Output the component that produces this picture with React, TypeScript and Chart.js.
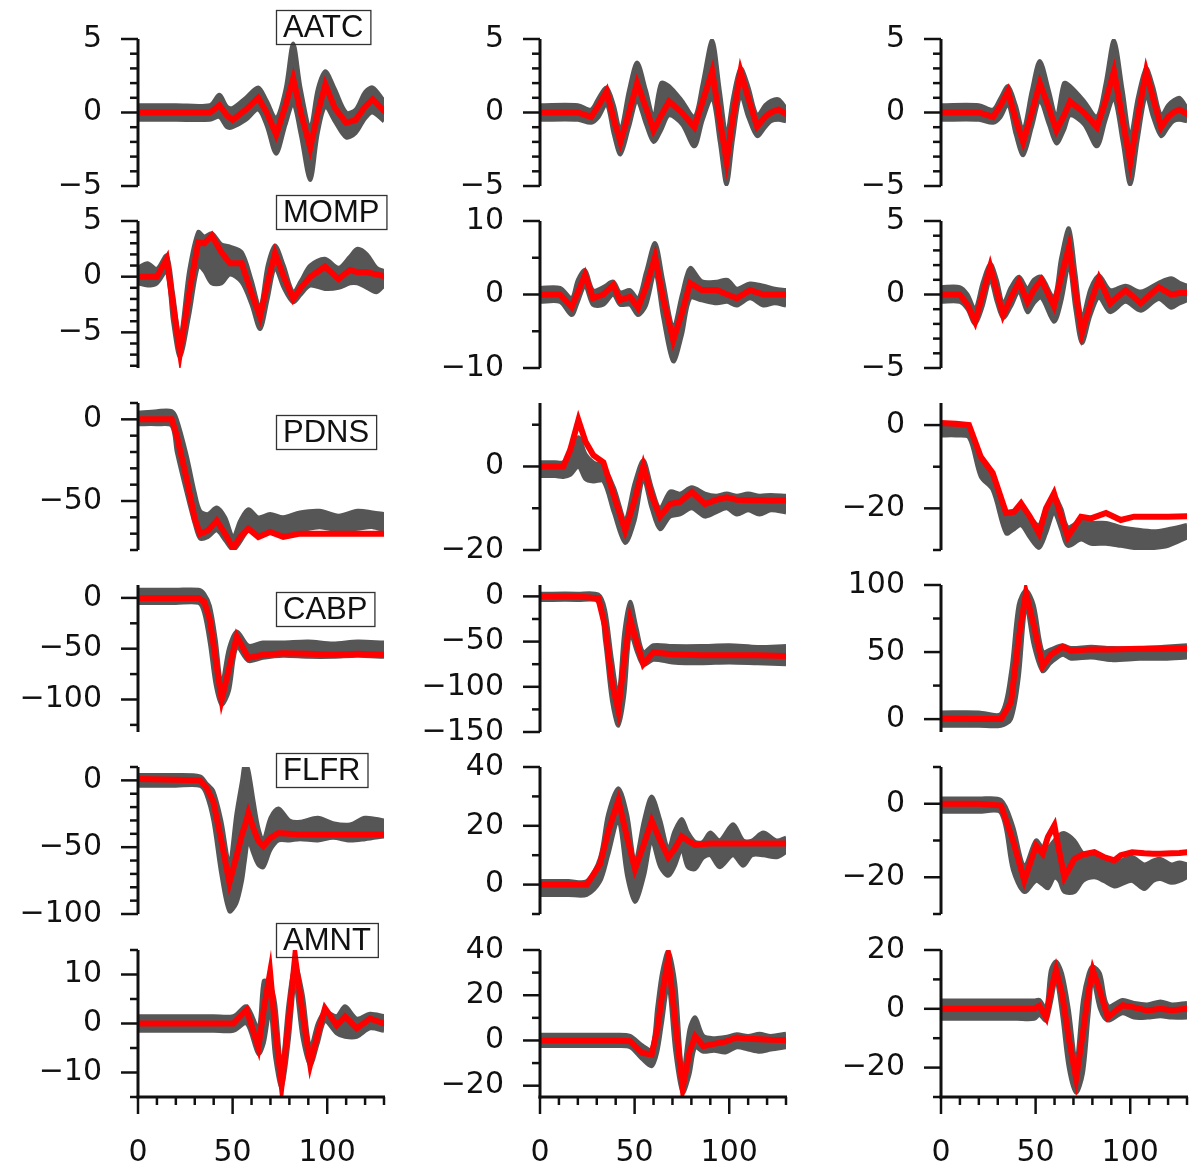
import React, { useEffect, useRef } from "react";
import { Chart, registerables } from "chart.js";

Chart.register(...registerables);

// ---------------- DATA ----------------
// Row labels (left column boxes)
const ROW_LABELS = ["AATC", "MOMP", "PDNS", "CABP", "FLFR", "AMNT"];

// Axis ranges / ticks per panel [row][col]
const Y_MIN = [[-5, -5, -5], [-8.2, -10, -5], [-80, -20, -30], [-132, -150, -9.6], [-100, -10, -30], [-15, -25, -30]];
const Y_MAX = [[5, 5, 5], [5, 10, 5], [10, 15.2, 5.3], [12.7, 12.6, 100], [10, 40, 10], [15, 40, 20]];
const Y_STEP = [[1, 1, 1], [1, 5, 1], [10, 10, 10], [25, 25, 25], [10, 10, 10], [5, 10, 10]];
const Y_LABEL_STEP = [[5, 5, 5], [5, 10, 5], [50, 20, 20], [50, 50, 50], [50, 20, 20], [10, 20, 20]];
const X_MIN = 0;
const X_MAX = 130;
const X_STEP = 10;
const X_LABEL_STEP = 50;

// AATC
const AATC_1_X = [0, 20, 38, 43, 47, 50, 57, 63.5, 68, 73, 78, 82, 86, 91, 95, 99, 104, 110, 115, 120, 124, 130];
const AATC_1_RED = [0, 0, 0, 0.5, -0.2, -0.5, 0.2, 1.0, 0, -1.5, 0.5, 2.3, 0, -2.4, 0, 1.9, 0.3, -0.7, -0.5, 0.4, 0.9, 0.1];
const AATC_1_HI = [0.5, 0.5, 0.5, 1.2, 0.4, 0.3, 1.0, 1.7, 0.8, -0.4, 1.6, 4.7, 1.6, -1.0, 1.6, 2.8, 1.6, 0.0, 0.2, 1.4, 1.7, 0.8];
const AATC_1_LO = [-0.5, -0.5, -0.5, -0.3, -1.0, -1.0, -0.5, 0.2, -0.9, -2.8, -0.8, 0.6, -1.5, -4.6, -1.4, 0.4, -0.6, -1.7, -1.4, -0.4, 0.0, -0.6];

const AATC_2_X = [0, 20, 27, 31, 35.2, 39, 42.5, 47, 51.3, 56, 60, 64, 68.2, 75, 81.6, 86, 91, 95, 98.6, 102, 106, 110, 114.7, 119, 122, 126, 130];
const AATC_2_RED = [0, 0, -0.3, 0.5, 1.45, -0.5, -2.0, 0, 2.0, 0.3, -1.2, -0.2, 0.75, 0, -1.0, 0.8, 2.8, -0.5, -3.3, -0.3, 2.8, 1.0, -0.95, -0.3, 0, 0.2, -0.1];
const AATC_2_HI = [0.5, 0.5, 0.2, 1.0, 1.7, 0.5, -1.2, 1.5, 3.4, 1.5, -0.3, 2.0, 1.8, 0.8, -0.3, 2.0, 4.9, 1.5, -1.5, 1.0, 3.0, 1.8, -0.2, 0.5, 0.8, 0.9, 0.3];
const AATC_2_LO = [-0.5, -0.5, -0.7, -0.3, 0.6, -1.5, -2.85, -1.0, 0.8, -0.8, -2.0, -1.2, -0.2, -0.8, -2.3, -0.5, 1.0, -2.0, -4.9, -1.8, 1.2, -0.3, -1.6, -1.0, -0.6, -0.5, -0.6];

const AATC_3_X = [0, 20, 27.5, 31.5, 35.4, 39.5, 43.4, 48, 52.2, 57, 61, 65, 68.2, 75.5, 82.4, 87, 91.4, 96, 100, 104, 108.4, 112, 116.3, 120, 122.7, 126, 130];
const AATC_3_RED = [0, 0, -0.3, 0.5, 1.45, -0.5, -2.0, 0, 2.0, 0.3, -1.2, -0.2, 0.75, 0, -1.0, 0.8, 2.8, -0.5, -3.4, -0.3, 2.8, 1.0, -1.0, -0.3, 0, 0.2, -0.1];
const AATC_3_HI = [0.5, 0.5, 0.2, 1.0, 1.8, 0.5, -1.2, 1.5, 3.5, 1.5, -0.3, 2.0, 1.8, 0.8, -0.3, 2.0, 4.9, 1.5, -1.6, 1.0, 3.0, 1.8, -0.2, 0.5, 0.8, 1.0, 0.3];
const AATC_3_LO = [-0.5, -0.5, -0.7, -0.3, 0.6, -1.5, -2.9, -1.0, 0.8, -0.8, -2.1, -1.2, -0.2, -0.8, -2.3, -0.5, 1.0, -2.0, -4.9, -1.8, 1.2, -0.3, -1.6, -1.0, -0.6, -0.5, -0.6];

// MOMP
const MOMP_1_X = [0, 5, 10, 15.2, 18.5, 22.2, 27, 31.8, 35, 39, 44, 48.6, 54.8, 60, 64.5, 68.5, 72.4, 77, 82, 86, 91, 98.8, 106, 112, 116, 121, 126, 130];
const MOMP_1_RED = [0, 0, 0, 1.6, -2.5, -6.8, -1.5, 3.1, 3.0, 3.7, 2.2, 1.2, 1.2, -1.5, -3.6, -0.5, 2.1, 0, -2.0, -1.0, 0, 0.9, -0.2, 0.6, 0.4, 0.4, 0.2, 0.05];
const MOMP_1_HI = [0.8, 1.2, 0.7, 1.9, -1.5, -5.5, 0.5, 4.0, 3.6, 3.9, 2.9, 2.7, 2.2, -0.3, -2.8, 1.0, 2.8, 1.0, -1.4, -0.4, 1.0, 1.6, 0.8, 1.8, 2.5, 2.0, 0.8, 0.5];
const MOMP_1_LO = [-0.6, -0.8, -0.6, 0.5, -4.0, -7.2, -3.5, 1.0, 0.5, -0.6, -0.6, 0.2, -0.5, -2.5, -4.7, -2.0, 0.8, -1.0, -2.3, -1.6, -0.8, -1.1, -1.0, -0.6, -0.6, -1.0, -1.4, -0.8];

const MOMP_2_X = [0, 10.6, 16.7, 20, 23.8, 28, 33.4, 38.7, 42.3, 47.6, 51.8, 56, 60.8, 65, 70.4, 75, 79.3, 85.5, 93.4, 99, 104, 111, 118, 124, 130];
const MOMP_2_RED = [0, 0, -1.7, 0.3, 2.65, -0.5, 0, 1.3, -0.75, -0.3, -1.8, 1.0, 5.1, -0.5, -6.2, -2.5, 1.55, 0.6, 0.6, 0.0, -0.5, 0.6, 0, 0, 0];
const MOMP_2_HI = [0.9, 0.9, -0.5, 2.0, 3.3, 0.6, 1.0, 1.75, 0.3, 0.6, -0.6, 3.0, 7.0, 2.0, -4.5, 0, 3.6, 1.8, 1.75, 2.0, 0.8, 1.5, 1.2, 0.8, 0.6];
const MOMP_2_LO = [-1.0, -1.0, -2.8, -1.0, 1.2, -1.4, -1.4, 0, -1.4, -1.4, -2.8, -1.5, 3.0, -3.0, -9.1, -5.5, -0.5, -0.8, -1.2, -1.0, -1.5, -0.5, -1.5, -1.2, -1.5];

const MOMP_3_X = [0, 9.9, 14, 18, 22, 26, 29.5, 32.8, 37, 41.2, 45.7, 49, 53, 59.7, 63.5, 67.6, 71, 74.5, 79, 83.5, 89.4, 97.5, 105.6, 115, 121.7, 126, 130];
const MOMP_3_RED = [0, 0, -0.7, -1.85, 0, 1.9, 0.2, -1.4, -0.2, 0.87, -0.5, 0.3, 1.0, -0.8, 1.2, 3.25, 0.2, -2.6, -0.6, 1.1, -0.6, 0.3, -0.6, 0.5, 0, 0.1, 0.1];
const MOMP_3_HI = [0.5, 0.5, 0.0, -1.0, 0.8, 2.1, 1.0, -0.6, 0.5, 1.2, 0.4, 1.0, 1.2, -0.2, 2.5, 4.5, 1.5, -1.6, 0.4, 1.3, 0.3, 0.6, 0.2, 0.8, 1.1, 0.8, 0.6];
const MOMP_3_LO = [-0.5, -0.5, -1.0, -2.0, -0.8, 1.0, -0.5, -1.6, -0.8, 0.2, -1.2, -0.6, -0.2, -1.85, -0.5, 2.0, -1.0, -3.3, -1.4, -0.2, -1.2, -0.5, -1.1, -0.3, -0.9, -0.6, -0.4];

// PDNS
const PDNS_1_X = [0, 10, 17.8, 20.5, 25.7, 30, 32.8, 37, 41.6, 46, 50.3, 54, 58.3, 63.6, 69.8, 76.8, 85.6, 96, 106, 116, 124, 130];
const PDNS_1_RED = [0, 0, 0, -10, -36.6, -61, -70, -68, -62, -70, -79, -72, -67, -72, -69, -72, -70, -70, -70, -70, -70, -70];
const PDNS_1_HI = [4, 5, 5, 0, -22, -45, -56, -58, -54, -60, -72, -62, -55, -60, -58, -60, -57, -56, -59, -56, -57, -58];
const PDNS_1_LO = [-3, -3, -4, -20, -45, -64, -73, -72, -68, -74, -80, -75, -68, -70, -68, -69, -68, -66, -68, -67, -66, -68];

const PDNS_2_X = [0, 8, 12.3, 16, 20.3, 24, 28.2, 33.5, 39, 45, 50, 54.6, 59, 63.4, 68.7, 74, 80.2, 87.2, 93, 98.7, 104, 110, 116, 122, 130];
const PDNS_2_RED = [0, 0, 0, 4, 11.1, 6, 2.7, 1.0, -7, -15.3, -8, 0.2, -7, -12, -9, -8.5, -6.1, -9, -8, -7.4, -8, -8.1, -8.0, -8.2, -8.1];
const PDNS_2_HI = [1, 1, 1, 3, 7, 3, 1, 0, -5, -12.5, -4, 1.5, -5, -10, -6, -6.5, -5, -6.5, -7, -6.5, -7, -6.5, -7, -6.8, -7];
const PDNS_2_LO = [-2.3, -2.3, -2.5, -2, 0, -3, -3.6, -3.5, -11, -18.3, -13, -3, -10, -15, -12, -11.5, -10, -12, -11, -10, -11.5, -10.5, -11.5, -10.5, -11];

const PDNS_3_X = [0, 8, 14.8, 21, 27.3, 34.4, 38.7, 42.3, 47, 51.8, 55.5, 59.7, 63.5, 67, 74, 79.3, 87.2, 95, 102, 112.6, 120, 130];
const PDNS_3_RED = [0.5, 0.3, 0, -7.6, -11.5, -21.1, -20.8, -18.8, -22, -26, -20, -16.4, -22, -26.8, -22, -22.4, -21.1, -22.8, -22, -22, -22, -21.9];
const PDNS_3_HI = [0.3, 0.2, -0.5, -7.6, -11.5, -21, -21, -19, -22, -24, -20, -17, -20, -24.5, -23, -23.5, -23.5, -24.5, -25, -25.5, -25, -24];
const PDNS_3_LO = [-2.5, -2.5, -3, -12.4, -15.6, -26, -25, -24, -27, -29.5, -26, -21, -25, -29, -27.5, -28.5, -28.5, -29, -29.5, -29.5, -29, -27];

// CABP
const CABP_1_X = [0, 20, 32, 35, 38, 41, 44.2, 48, 52.2, 58.3, 66, 76.6, 90, 103, 116, 130];
const CABP_1_RED = [0, 0, 0, -4, -22, -60, -100, -70, -38, -59, -56, -54.6, -55, -56, -55, -56];
const CABP_1_HI = [8, 8, 8, 4, -8, -40, -85, -50, -33, -47, -44, -44, -43, -45, -43, -44];
const CABP_1_LO = [-5, -5, -5, -15, -45, -85, -105, -92, -48, -62, -59, -57, -58, -58, -57, -58];

const CABP_2_X = [0, 20, 30.8, 34.4, 38, 41.4, 44.5, 47.6, 51, 54.6, 59.9, 70, 85, 100, 115, 130];
const CABP_2_RED = [0, 0, -2, -33, -95, -126, -70, -25, -50, -75, -62, -64, -65, -65, -65, -66];
const CABP_2_HI = [3, 3, 2, -15, -70, -110, -40, -6, -35, -62, -54, -55, -55, -54, -56, -55];
const CABP_2_LO = [-4, -4, -6, -50, -115, -143, -110, -40, -60, -76, -70, -73, -74, -73, -74, -75];

const CABP_3_X = [0, 20, 31.7, 37, 41, 44.9, 49, 53.7, 58, 64.3, 68.7, 79.3, 90, 105, 118, 130];
const CABP_3_RED = [0.5, 0, 0, 12.6, 60, 94, 70, 39.5, 48, 54, 51, 52, 52, 52.5, 52.5, 52.6];
const CABP_3_HI = [5, 5, 4, 35, 85, 96, 85, 50, 52, 55, 53, 54, 53, 53, 54, 55];
const CABP_3_LO = [-5, -5, -5, 0, 30, 85, 55, 35.8, 42, 48, 45, 46, 44, 45, 45, 46];

// FLFR
const FLFR_1_X = [0, 20, 32.8, 36, 39.8, 44, 48.3, 52, 55, 56.5, 58.3, 61, 63.5, 66.2, 70, 74.2, 80, 85.6, 95, 103, 112, 120, 130];
const FLFR_1_RED = [1, 0.5, 0, -5, -16, -45, -76.6, -57, -40, -34, -24.5, -36, -45, -49.3, -43, -39.4, -40, -40.6, -40.6, -40.6, -40.6, -40.6, -40.6];
const FLFR_1_HI = [4, 4, 3, -2, -8, -30, -62, -25, 0, 12.6, 8, -15, -35, -45, -28, -21, -30, -31, -28, -32, -33, -28, -30];
const FLFR_1_LO = [-4, -4, -4, -10, -30, -70, -98, -92, -75, -60, -45, -55, -63, -65, -52, -45, -45, -44, -45, -43, -45, -44, -42];

const FLFR_2_X = [0, 15, 24.7, 31.7, 36, 41.4, 46, 50.2, 55, 59, 63.5, 67.8, 71, 74.9, 78, 82, 86, 90, 95, 102, 107.4, 112, 118, 125, 130];
const FLFR_2_RED = [0, 0, 0, 7, 18, 28.7, 16, 5.3, 14, 21.7, 15, 9.3, 12, 16.4, 15, 13.5, 13.8, 14, 14, 14, 14, 14, 14, 14, 14];
const FLFR_2_HI = [1.2, 1.2, 1.2, 9, 24, 32.8, 24, 8, 22, 30, 22, 12, 18, 22.3, 18, 14.5, 14.5, 17.7, 15, 20.5, 15, 15, 17.7, 15, 16];
const FLFR_2_LO = [-3.5, -3.5, -3.5, 1, 10, 22, 3, -5.9, 3, 15, 6, 3, 6, 12, 6, 5.3, 9, 10, 5.9, 10, 6.4, 10, 10, 9.3, 11];

const FLFR_3_X = [0, 20, 31.7, 38, 44, 50.2, 53.7, 56.5, 59.9, 62.5, 65.2, 70.5, 75, 81, 86, 91.6, 95, 101, 107.4, 112, 116, 121.7, 126, 130];
const FLFR_3_RED = [0, 0, -0.5, -10, -20.9, -11.4, -13.6, -9, -5.9, -13, -20, -15, -13.8, -13.2, -14.5, -15.4, -14, -13.2, -13.5, -13.6, -13.6, -13.5, -13.4, -13.2];
const FLFR_3_HI = [1.4, 1.4, 1, -6, -17, -10, -12, -12, -10, -8.5, -8, -10, -13.5, -14.5, -15, -16, -15.5, -14.5, -16.5, -15.5, -15, -16.5, -16, -16.5];
const FLFR_3_LO = [-2.2, -2.2, -2.5, -18, -24, -21, -22, -23, -20, -21, -24, -24, -21, -20, -21, -22.5, -22, -21, -23.2, -21, -20.5, -21.5, -21, -20];

// AMNT
const AMNT_1_X = [0, 20, 40, 50.4, 57.4, 63.6, 66.5, 69.8, 72.5, 75.9, 79.5, 83, 87, 91, 95, 98.8, 105, 109.4, 115.6, 122.6, 130];
const AMNT_1_RED = [0, 0, 0, 0, 2.8, -4.9, 3, 10.4, -1, -12.5, 0, 13.5, 2, -8.3, -2, 3.1, -0.35, 1.4, -1, 1, 0];
const AMNT_1_HI = [1.5, 1.5, 1.5, 1.5, 3.5, -1, 8.7, 8, 4, -9, 4, 11.9, 6, -5, 0, 2.4, 1.5, 3.5, 1, 2, 1.5];
const AMNT_1_LO = [-1.5, -1.5, -1.5, -1.5, 0, -6.2, -4, 3, -7, -13, -4, 8, -3, -8.5, -4, 0.5, -2, -2.7, -2.7, -1, -1.5];

const AMNT_2_X = [0, 20, 40, 47.6, 53.7, 59, 62, 64.5, 67.8, 71.5, 75.4, 79, 82, 86.3, 92, 98, 104, 110, 116, 122, 130];
const AMNT_2_RED = [0, 0, 0, -0.3, -5.4, -6.2, 5, 20, 36.7, 8, -21, -5, 1.9, -2.5, -1.5, -0.5, 1.3, 0.8, 0.5, 0.3, 0.2];
const AMNT_2_HI = [2.5, 2.5, 2.5, 2, -2, -4, 15, 30, 39.5, 25, -15, 5, 10.2, 2, 1, 1.5, 2.7, 2, 3, 2, 3];
const AMNT_2_LO = [-2.5, -2.5, -2.5, -3, -8, -11.4, -5, 8, 25, -5, -23, -15, -3, -5, -4.5, -5.3, -3, -4, -5, -4, -3];

const AMNT_3_X = [0, 20, 40, 49.3, 52, 55.5, 58, 60.8, 64, 67.5, 71.4, 75, 78, 80.2, 84, 88.1, 96, 102, 109, 116, 122, 130];
const AMNT_3_RED = [0, 0, 0, 0, 1, -2.9, 6, 13.2, 5, -10, -23.6, -8, 6, 13.2, 6, -2.9, 1.2, 0.5, -0.6, 0, -0.5, 0];
const AMNT_3_HI = [2.8, 2.8, 2.8, 2.8, 3, 0, 13, 16.1, 12, 0, -18, 3, 12, 14.4, 12, 1, 3, 2, 1.5, 2.5, 1.5, 2];
const AMNT_3_LO = [-3.4, -3.4, -3.4, -3.4, -2, -4, 2, 10, -2, -20, -28.5, -22, -2, 10, 0, -4, -1.5, -3, -3, -2.5, -3, -3];

// ---------------- LAYOUT / STYLE ----------------
const COL_SPINE = [138, 540, 941];
const ROW_TOP = [39, 221, 403, 585, 767, 950];
const PLOT_W = 246;
const PLOT_H = 147;
const AXIS_W = 138;
const PAD_T = 60;
const PAD_B = 60;
const PAD_R = 45;
const XAXIS_H = 66;
const BOX_TOP = [10, 195, 415, 592, 753, 923];
const BOX_LEFT = 276;
const BOX_H = 34;

const RED = "#ff0000";
const GRAY = "#565656";
const INK = "#111111";
const TICK_FONT = { family: "'DejaVu Sans'", size: 30 };
const BOX_FONT = "31px 'Liberation Sans'";
const SPINE_W = 3;
const TICK_W = 2.5;
const MAJOR_LEN = 17;
const MINOR_LEN = 8;

type Series = { x: number[]; red: number[]; hi: number[]; lo: number[] };
const mk = (x: number[], red: number[], hi: number[], lo: number[]): Series => ({ x, red, hi, lo });

const SERIES: Series[][] = [
  [mk(AATC_1_X, AATC_1_RED, AATC_1_HI, AATC_1_LO), mk(AATC_2_X, AATC_2_RED, AATC_2_HI, AATC_2_LO), mk(AATC_3_X, AATC_3_RED, AATC_3_HI, AATC_3_LO)],
  [mk(MOMP_1_X, MOMP_1_RED, MOMP_1_HI, MOMP_1_LO), mk(MOMP_2_X, MOMP_2_RED, MOMP_2_HI, MOMP_2_LO), mk(MOMP_3_X, MOMP_3_RED, MOMP_3_HI, MOMP_3_LO)],
  [mk(PDNS_1_X, PDNS_1_RED, PDNS_1_HI, PDNS_1_LO), mk(PDNS_2_X, PDNS_2_RED, PDNS_2_HI, PDNS_2_LO), mk(PDNS_3_X, PDNS_3_RED, PDNS_3_HI, PDNS_3_LO)],
  [mk(CABP_1_X, CABP_1_RED, CABP_1_HI, CABP_1_LO), mk(CABP_2_X, CABP_2_RED, CABP_2_HI, CABP_2_LO), mk(CABP_3_X, CABP_3_RED, CABP_3_HI, CABP_3_LO)],
  [mk(FLFR_1_X, FLFR_1_RED, FLFR_1_HI, FLFR_1_LO), mk(FLFR_2_X, FLFR_2_RED, FLFR_2_HI, FLFR_2_LO), mk(FLFR_3_X, FLFR_3_RED, FLFR_3_HI, FLFR_3_LO)],
  [mk(AMNT_1_X, AMNT_1_RED, AMNT_1_HI, AMNT_1_LO), mk(AMNT_2_X, AMNT_2_RED, AMNT_2_HI, AMNT_2_LO), mk(AMNT_3_X, AMNT_3_RED, AMNT_3_HI, AMNT_3_LO)],
];

const isMult = (v: number, s: number) => Math.abs(v / s - Math.round(v / s)) < 1e-6;
const fmt = (v: number) => (v < 0 ? "\u2212" + Math.abs(v) : String(v));

const axesPlugin = {
  id: "rAxes",
  afterDraw(chart: any, _args: any, opts: any) {
    const { ctx, chartArea: a } = chart;
    const xs = chart.scales.x;
    const ys = chart.scales.y;
    ctx.save();
    ctx.strokeStyle = INK;
    ctx.lineCap = "butt";
    // y spine
    ctx.lineWidth = SPINE_W;
    ctx.beginPath();
    ctx.moveTo(a.left, a.top);
    ctx.lineTo(a.left, a.bottom + (opts.xAxis ? SPINE_W / 2 : 0));
    ctx.stroke();
    // y ticks
    ctx.lineWidth = TICK_W;
    for (const t of ys.ticks) {
      const p = ys.getPixelForValue(t.value);
      const len = isMult(t.value, opts.yLabelStep) ? MAJOR_LEN : MINOR_LEN;
      ctx.beginPath();
      ctx.moveTo(a.left - len, p);
      ctx.lineTo(a.left, p);
      ctx.stroke();
    }
    if (opts.xAxis) {
      ctx.lineWidth = SPINE_W;
      ctx.beginPath();
      ctx.moveTo(xs.getPixelForValue(X_MIN) - SPINE_W / 2, a.bottom);
      ctx.lineTo(xs.getPixelForValue(X_MAX) + 1, a.bottom);
      ctx.stroke();
      ctx.lineWidth = TICK_W;
      for (const t of xs.ticks) {
        const p = xs.getPixelForValue(t.value);
        const len = isMult(t.value, X_LABEL_STEP) ? MAJOR_LEN : MINOR_LEN;
        ctx.beginPath();
        ctx.moveTo(p, a.bottom);
        ctx.lineTo(p, a.bottom + len);
        ctx.stroke();
      }
    }
    if (opts.boxText) {
      ctx.font = BOX_FONT;
      const w = ctx.measureText(opts.boxText).width + 14;
      ctx.lineWidth = 1.3;
      ctx.strokeStyle = "#333";
      ctx.strokeRect(opts.boxX + 0.5, opts.boxY + 0.5, w, BOX_H);
      ctx.fillStyle = INK;
      ctx.textBaseline = "middle";
      ctx.textAlign = "left";
      ctx.fillText(opts.boxText, opts.boxX + 7, opts.boxY + BOX_H / 2 + 1.5);
    }
    ctx.restore();
  },
};

function Panel({ r, c }: { r: number; c: number }) {
  const ref = useRef<HTMLCanvasElement | null>(null);
  const bottomRow = r === ROW_TOP.length - 1;
  const W = AXIS_W + PLOT_W + PAD_R;
  const H = PAD_T + PLOT_H + (bottomRow ? XAXIS_H : PAD_B);
  const left = COL_SPINE[c] - AXIS_W;
  const top = ROW_TOP[r] - PAD_T;

  useEffect(() => {
    if (!ref.current) return;
    const s = SERIES[r][c];
    const pts = (ys: number[]) => s.x.map((x, i) => ({ x, y: ys[i] }));
    const labelStep = Y_LABEL_STEP[r][c];
    const chart = new Chart(ref.current, {
      type: "line",
      data: {
        datasets: [
          {
            data: pts(s.red),
            borderColor: RED,
            borderWidth: 6,
            pointRadius: 0,
            fill: false,
            tension: 0,
            borderJoinStyle: "miter",
            borderCapStyle: "round",
          },
          {
            data: pts(s.hi),
            borderColor: GRAY,
            backgroundColor: GRAY,
            borderWidth: 4,
            pointRadius: 0,
            fill: "+1",
            tension: 0.3,
            borderJoinStyle: "round",
          },
          {
            data: pts(s.lo),
            borderColor: GRAY,
            backgroundColor: GRAY,
            borderWidth: 4,
            pointRadius: 0,
            fill: false,
            tension: 0.3,
            borderJoinStyle: "round",
          },
        ],
      } as any,
      options: {
        responsive: false,
        animation: false,
        events: [],
        layout: { padding: { left: 0, right: PAD_R, top: PAD_T, bottom: bottomRow ? 0 : PAD_B } },
        plugins: {
          legend: { display: false },
          tooltip: { enabled: false },
          rAxes: {
            yLabelStep: labelStep,
            xAxis: bottomRow,
            boxText: c === 0 ? ROW_LABELS[r] : null,
            boxX: BOX_LEFT - left,
            boxY: BOX_TOP[r] - top,
          },
        } as any,
        scales: {
          x: {
            type: "linear",
            min: X_MIN,
            max: X_MAX,
            display: bottomRow,
            grid: { display: false, drawTicks: false },
            border: { display: false },
            ticks: {
              stepSize: X_STEP,
              includeBounds: false,
              autoSkip: false,
              maxRotation: 0,
              padding: 38,
              font: TICK_FONT,
              color: INK,
              callback: (v: any) => (isMult(Number(v), X_LABEL_STEP) ? fmt(Number(v)) : ""),
            },
            afterFit: (sc: any) => {
              sc.height = bottomRow ? XAXIS_H : 0;
            },
          },
          y: {
            type: "linear",
            min: Y_MIN[r][c],
            max: Y_MAX[r][c],
            grid: { display: false, drawTicks: false },
            border: { display: false },
            ticks: {
              stepSize: Y_STEP[r][c],
              includeBounds: false,
              autoSkip: false,
              padding: 36,
              font: TICK_FONT,
              color: INK,
              callback: (v: any) => (isMult(Number(v), labelStep) ? fmt(Number(v)) : ""),
            },
            afterFit: (sc: any) => {
              sc.width = AXIS_W;
            },
          },
        },
      } as any,
      plugins: [axesPlugin],
    });
    return () => chart.destroy();
  }, [r, c]);

  return (
    <canvas
      ref={ref}
      width={W}
      height={H}
      style={{ position: "absolute", left, top, width: W, height: H }}
    />
  );
}

export default function App() {
  return (
    <div
      style={{
        position: "absolute",
        left: 0,
        top: 0,
        width: 1201,
        height: 1167,
        overflow: "hidden",
        background: "#ffffff",
      }}
    >
      {ROW_TOP.map((_, r) => COL_SPINE.map((__, c) => <Panel key={`${r}-${c}`} r={r} c={c} />))}
    </div>
  );
}
